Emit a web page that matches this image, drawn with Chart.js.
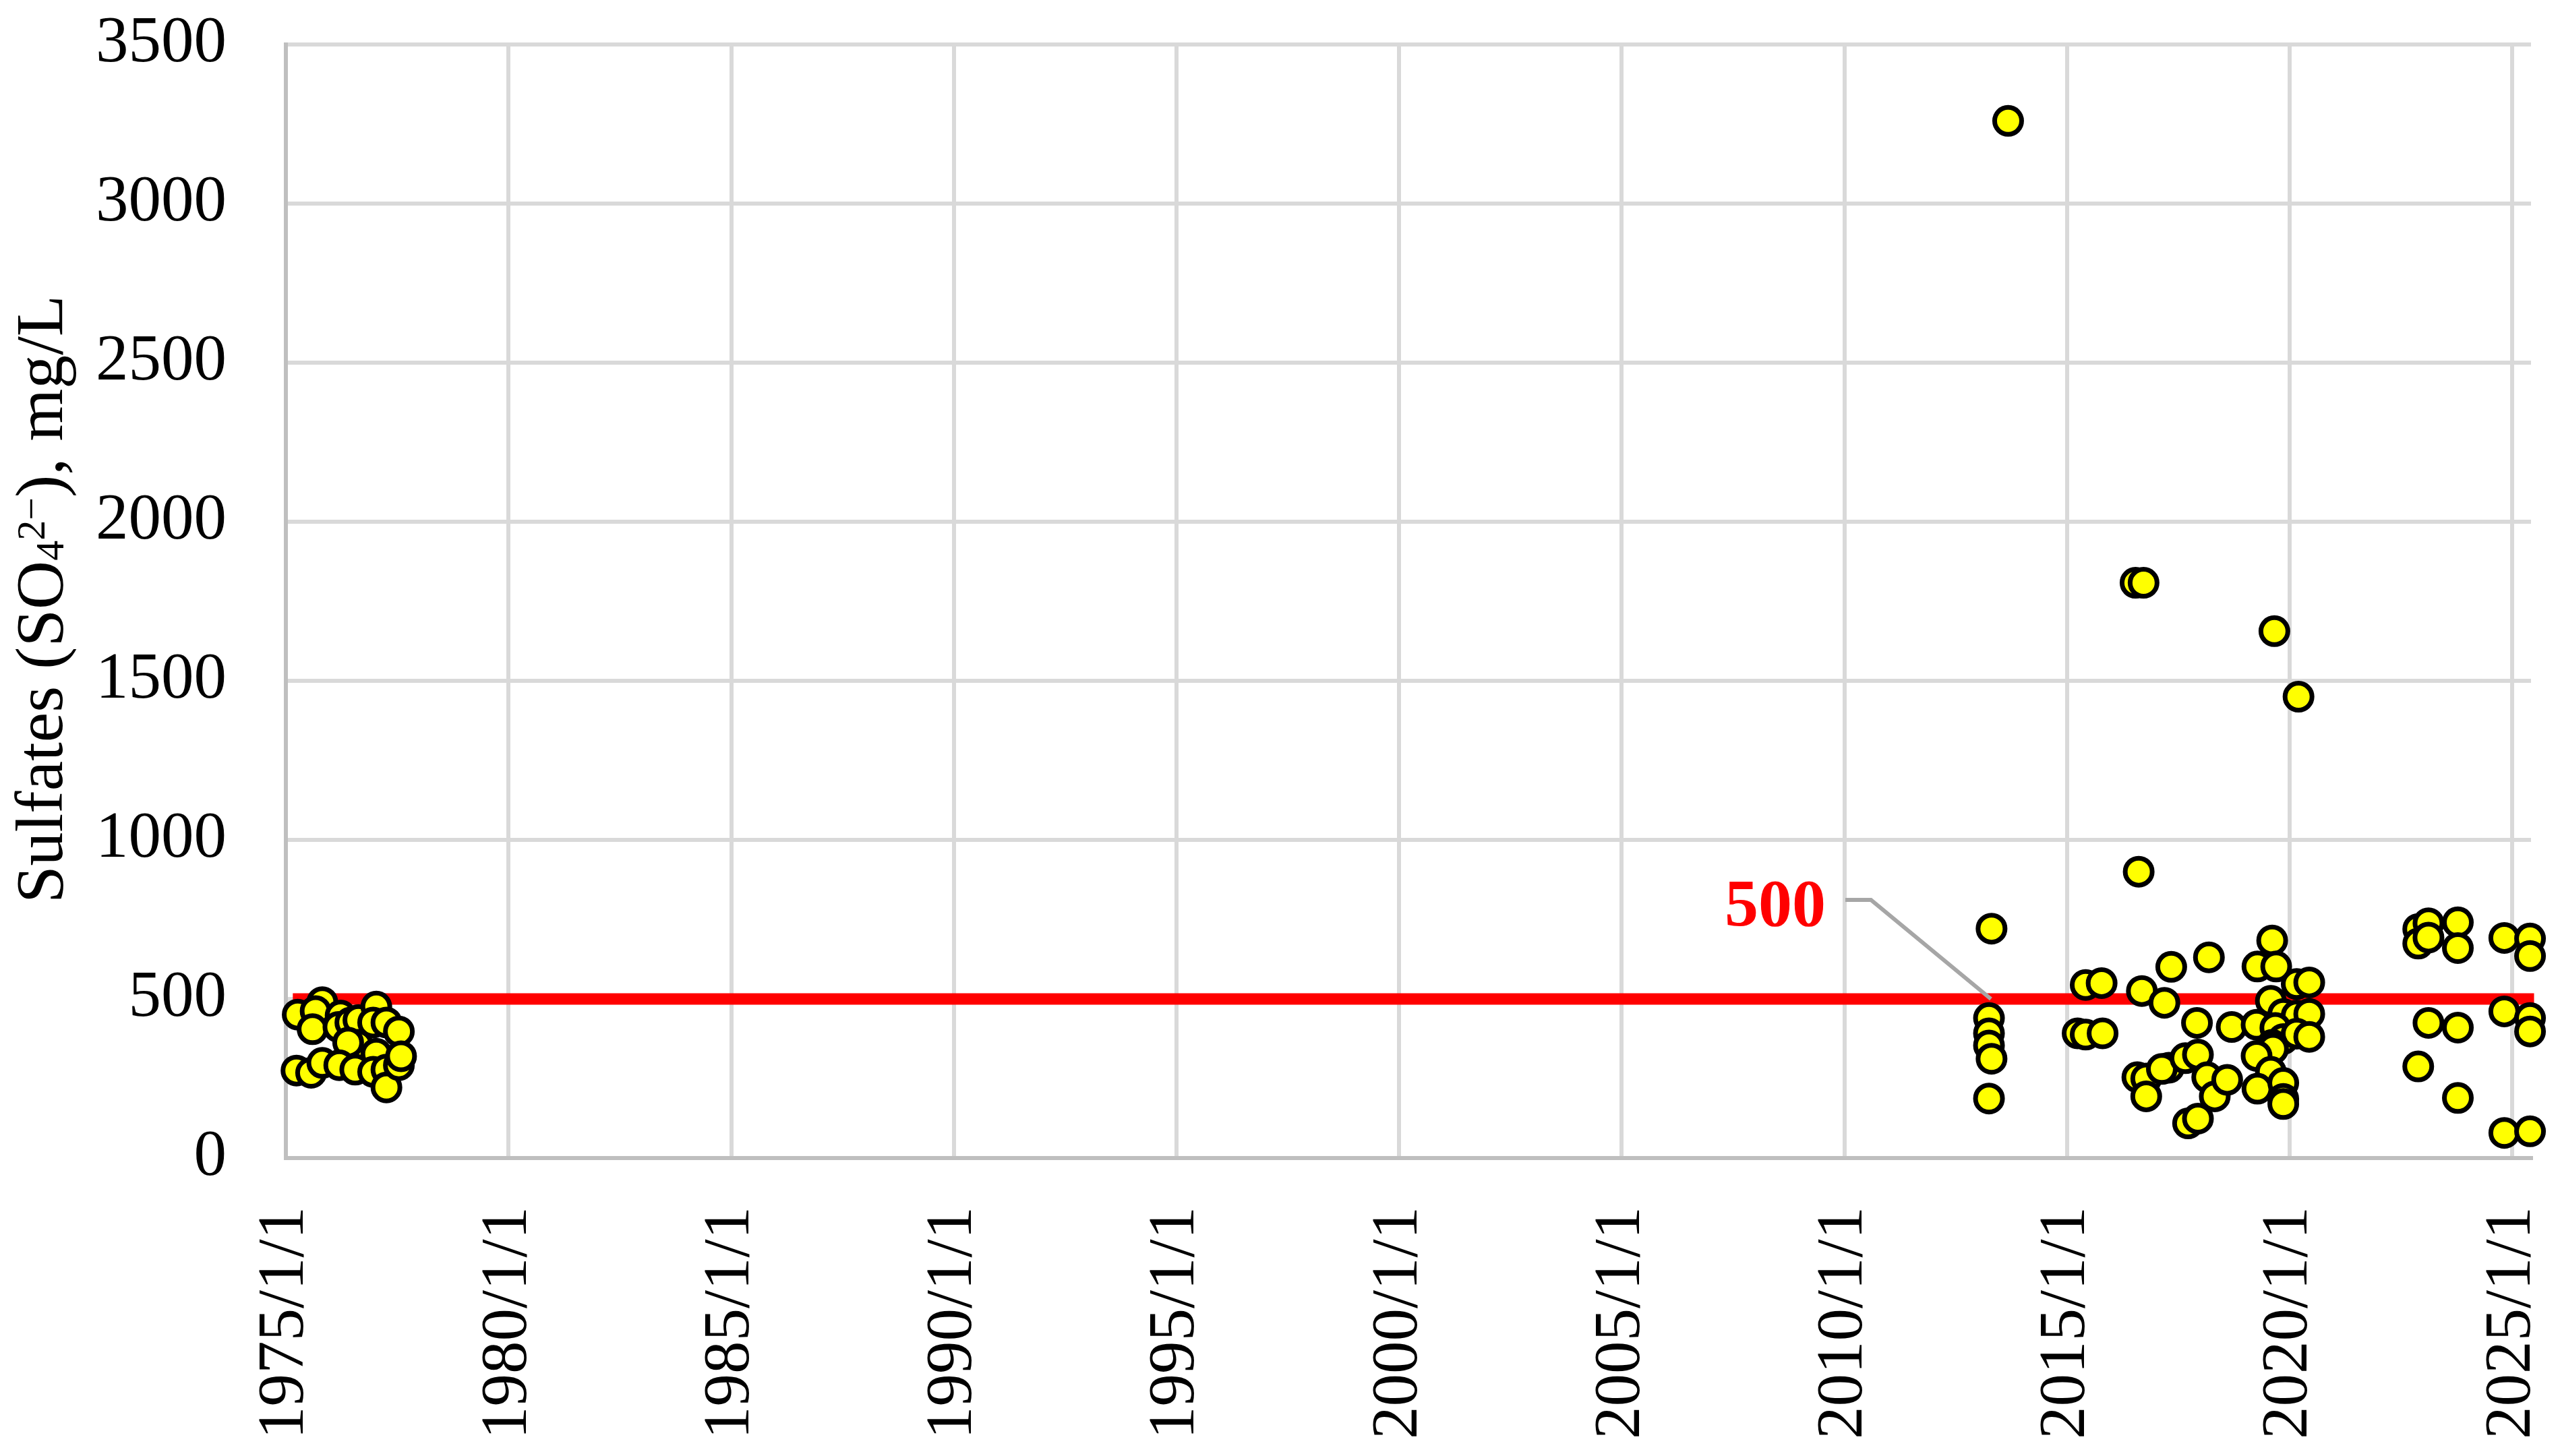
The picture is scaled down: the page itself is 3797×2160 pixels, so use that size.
<!DOCTYPE html>
<html>
<head>
<meta charset="utf-8">
<title>Sulfates</title>
<script src="https://cdn.jsdelivr.net/npm/chart.js"></script>
<style>
html,body{margin:0;padding:0;background:#ffffff;}
canvas{display:block;}
</style>
</head>
<body>
<canvas id="chart" width="3797" height="2160"></canvas>
<script>
// ---------------- data ----------------
const sampleDates = [
  '1975-04-08','1975-10-27','1975-09-02','1975-08-08','1976-03-25','1976-03-07','1976-06-13','1976-08-18',
  '1977-01-12','1976-12-17','1977-04-05','1977-07-16','1976-08-11','1976-05-26','1977-01-12','1975-03-29',
  '1975-07-27','1975-10-27','1976-03-14','1976-07-23','1976-12-17','1977-04-05','1977-04-05','1977-07-16',
  '1977-08-03',
  '2013-04-22','2013-04-01','2013-04-01','2013-04-01','2013-04-22','2013-04-01','2013-09-05',
  '2015-06-03','2015-10-12','2015-03-29','2015-06-03','2015-10-20',
  '2016-07-16','2016-09-20','2016-08-11','2016-09-06','2017-03-10','2017-05-05','2018-03-10','2017-12-02',
  '2018-09-13','2016-07-31','2016-10-12','2016-10-12','2017-04-16','2017-02-17','2017-08-29','2017-12-10',
  '2018-02-24','2018-04-27','2018-08-07','2017-09-20','2017-12-10',
  '2019-08-11','2019-04-12','2019-09-13','2020-02-28','2020-06-10','2019-07-31','2019-11-10','2020-02-28',
  '2020-06-10','2019-04-05','2019-09-06','2019-11-10','2020-02-28','2020-06-10','2019-08-11','2019-08-18',
  '2019-04-05','2019-07-31','2019-04-12','2019-11-10','2019-11-10','2019-11-10','2019-08-29','2020-03-14',
  '2022-11-21','2023-02-13','2023-10-12','2022-11-21','2023-02-13','2023-10-12','2024-10-27','2025-05-26',
  '2025-05-26','2023-02-13','2023-10-12','2022-11-21','2023-10-12','2024-10-27','2025-05-26','2025-05-26',
  '2024-10-27','2025-05-26'
];
const sulfateValues = [
  451,490,462,405,448,412,426,434,
  476,426,426,398,356,363,328,275,
  268,299,292,278,271,278,222,292,
  320,
  721,440,392,354,312,187,3260,
  544,550,392,388,392,
  1808,1808,900,525,488,601,631,425,
  412,254,250,194,284,280,314,325,
  254,194,246,109,124,
  684,602,602,547,552,494,453,448,
  453,419,409,374,391,381,356,343,
  321,271,218,236,186,170,1656,1450,
  720,738,741,674,693,660,692,690,
  635,425,410,288,189,461,440,398,
  79,84
];
const limitDates = ['1975-04-15', '2025-05-12'];
const limitValues = [500, 500];
const xTickLabels = ['1975/1/1','1980/1/1','1985/1/1','1990/1/1','1995/1/1','2000/1/1',
                     '2005/1/1','2010/1/1','2015/1/1','2020/1/1','2025/1/1'];
const yTickValues = [0, 500, 1000, 1500, 2000, 2500, 3000, 3500];
const xAxisMinDate = '1975-01-01';
const xAxisMaxDate = '2025-06-03';
const limitLabelText = '500';
const limitLabelDate = '2013-04-17';
const limitLabelValue = 500;
const yAxisTitleParts = [
  {text: 'Sulfates (SO', kind: 'normal'},
  {text: '4', kind: 'sub'},
  {text: '2\u2212', kind: 'sup'},
  {text: '), mg/L', kind: 'normal'}
];

// ---------------- helpers ----------------
function toDay(s) {
  const p = s.split(/[-\/]/).map(Number);
  return Date.UTC(p[0], p[1] - 1, p[2]) / 864e5;
}
const FONT = '"Liberation Serif", "Times New Roman", serif';

const samplePoints = sampleDates.map((d, i) => ({x: toDay(d), y: sulfateValues[i]}));
const limitPoints = limitDates.map((d, i) => ({x: toDay(d), y: limitValues[i]}));

// y-axis title with sub/superscripts
const yTitlePlugin = {
  id: 'yTitle',
  afterDraw(chart) {
    const ctx = chart.ctx;
    const area = chart.chartArea;
    const base = 100, small = 60;
    const pieces = yAxisTitleParts.map(p => {
      const size = p.kind === 'normal' ? base : small;
      ctx.font = size + 'px ' + FONT;
      return {...p, size, w: ctx.measureText(p.text).width};
    });
    const total = pieces.reduce((a, p) => a + p.w, 0);
    ctx.save();
    ctx.translate(92, (area.top + area.bottom) / 2 - 3);
    ctx.rotate(-Math.PI / 2);
    ctx.fillStyle = '#000000';
    ctx.textBaseline = 'alphabetic';
    ctx.textAlign = 'left';
    let x = -total / 2;
    for (const p of pieces) {
      ctx.font = p.size + 'px ' + FONT;
      const dy = p.kind === 'sup' ? -26 : (p.kind === 'sub' ? 2 : 0);
      ctx.fillText(p.text, x, dy);
      x += p.w;
    }
    ctx.restore();
  }
};

// "500" data label with leader line
const limitLabelPlugin = {
  id: 'limitLabel',
  afterDatasetsDraw(chart) {
    const ctx = chart.ctx;
    const ax = chart.scales.x.getPixelForValue(toDay(limitLabelDate));
    const ay = chart.scales.y.getPixelForValue(limitLabelValue);
    ctx.save();
    ctx.strokeStyle = '#A6A6A6';
    ctx.lineWidth = 6;
    ctx.lineJoin = 'miter';
    ctx.beginPath();
    ctx.moveTo(ax - 216, ay - 147);
    ctx.lineTo(ax - 178, ay - 147);
    ctx.lineTo(ax, ay);
    ctx.stroke();
    ctx.fillStyle = '#FF0000';
    ctx.font = 'bold 100px ' + FONT;
    ctx.textAlign = 'right';
    ctx.textBaseline = 'alphabetic';
    ctx.fillText(limitLabelText, ax - 245, ay - 109);
    ctx.restore();
  }
};

new Chart(document.getElementById('chart'), {
  type: 'scatter',
  data: {
    datasets: [
      {
        label: 'Sulfates',
        data: samplePoints,
        showLine: false,
        pointRadius: 20,
        pointHoverRadius: 20,
        pointBorderWidth: 7,
        pointBackgroundColor: '#FFFF00',
        pointBorderColor: '#000000',
        clip: false,
        order: 0
      },
      {
        label: 'Limit',
        data: limitPoints,
        showLine: true,
        borderColor: '#FF0000',
        borderWidth: 17,
        borderCapStyle: 'square',
        pointRadius: 0,
        pointHoverRadius: 0,
        clip: false,
        order: 1
      }
    ]
  },
  options: {
    responsive: false,
    animation: false,
    devicePixelRatio: 1,
    events: [],
    layout: {padding: {left: 0, right: 43, top: 66, bottom: 0}},
    plugins: {legend: {display: false}, tooltip: {enabled: false}},
    scales: {
      x: {
        type: 'linear',
        min: toDay(xAxisMinDate),
        max: toDay(xAxisMaxDate),
        afterBuildTicks: s => { s.ticks = xTickLabels.map(t => ({value: toDay(t)})); },
        afterFit: s => { s.height = 442; s.paddingLeft = 0; s.paddingRight = 0; },
        ticks: {
          autoSkip: false,
          minRotation: 90,
          maxRotation: 90,
          padding: 72,
          color: '#000000',
          font: {family: FONT, size: 97},
          callback: (v, i) => xTickLabels[i]
        },
        grid: {color: '#D9D9D9', lineWidth: 6, drawTicks: false},
        border: {color: '#BFBFBF', width: 6}
      },
      y: {
        min: 0,
        max: 3500,
        afterBuildTicks: s => { s.ticks = yTickValues.map(v => ({value: v})); },
        afterFit: s => { s.width = 424; s.paddingTop = 0; s.paddingBottom = 0; },
        ticks: {
          padding: 88,
          color: '#000000',
          font: {family: FONT, size: 97},
          callback: v => String(v)
        },
        grid: {color: '#D9D9D9', lineWidth: 6, drawTicks: false},
        border: {color: '#BFBFBF', width: 6}
      }
    }
  },
  plugins: [yTitlePlugin, limitLabelPlugin]
});
</script>
</body>
</html>
